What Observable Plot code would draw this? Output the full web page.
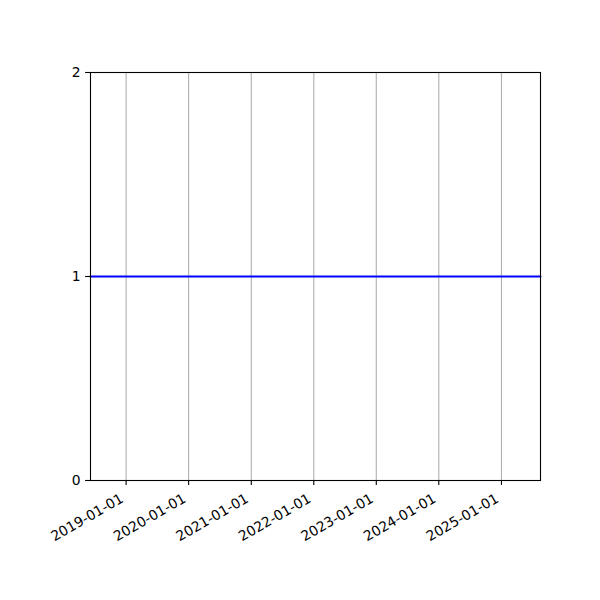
<!DOCTYPE html>
<html><head><meta charset="utf-8">
<script src="https://cdn.jsdelivr.net/npm/d3@7"></script>
<script src="https://cdn.jsdelivr.net/npm/@observablehq/plot@0.6"></script>
<style>html,body{margin:0;padding:0;background:#fff}</style>
</head><body><div id="chart"></div>
<script>
const dates = ["2018-06-07", "2025-08-17"];
const values = [1, 1];
const xTickLabels = ["2019-01-01","2020-01-01","2021-01-01","2022-01-01","2023-01-01","2024-01-01","2025-01-01"];
const yTicks = [0, 1, 2];
const xDomain = ["2018-06-07", "2025-08-17"];
const yDomain = [0, 2];

const parse = d3.utcParse("%Y-%m-%d");
const fmt = d3.utcFormat("%Y-%m-%d");
const data = dates.map((d, i) => ({date: parse(d), value: values[i]}));
const xTicks = xTickLabels.map(parse);

const chart = Plot.plot({
  width: 600,
  height: 600,
  marginLeft: 90,
  marginRight: 60,
  marginTop: 72,
  marginBottom: 120,
  style: {fontFamily: "DejaVu Sans", fontSize: "13.9px", background: "white", color: "black", overflow: "visible"},
  x: {type: "utc", domain: xDomain.map(parse)},
  y: {domain: yDomain},
  marks: [
    Plot.ruleX(xTicks, {stroke: "#b0b0b0", strokeWidth: 1.1}),
    Plot.line(data, {x: "date", y: "value", stroke: "blue", strokeWidth: 2.1}),
    Plot.frame({stroke: "black", strokeWidth: 1.1}),
    Plot.axisX({ticks: xTicks, tickFormat: fmt, tickSize: 4.9, tickPadding: 4, strokeWidth: 1.1, tickRotate: -30, label: null, text: null}),
    Plot.axisX({ticks: xTicks, tickFormat: fmt, tickSize: 0, tickPadding: 8.9, tickRotate: -30, label: null, dx: -4, dy: 8}),
    Plot.axisY({ticks: yTicks, tickFormat: d3.format("d"), tickSize: 4.9, tickPadding: 4.9, strokeWidth: 1.1, label: null})
  ]
});
document.getElementById("chart").appendChild(chart);
</script>
</body></html>
